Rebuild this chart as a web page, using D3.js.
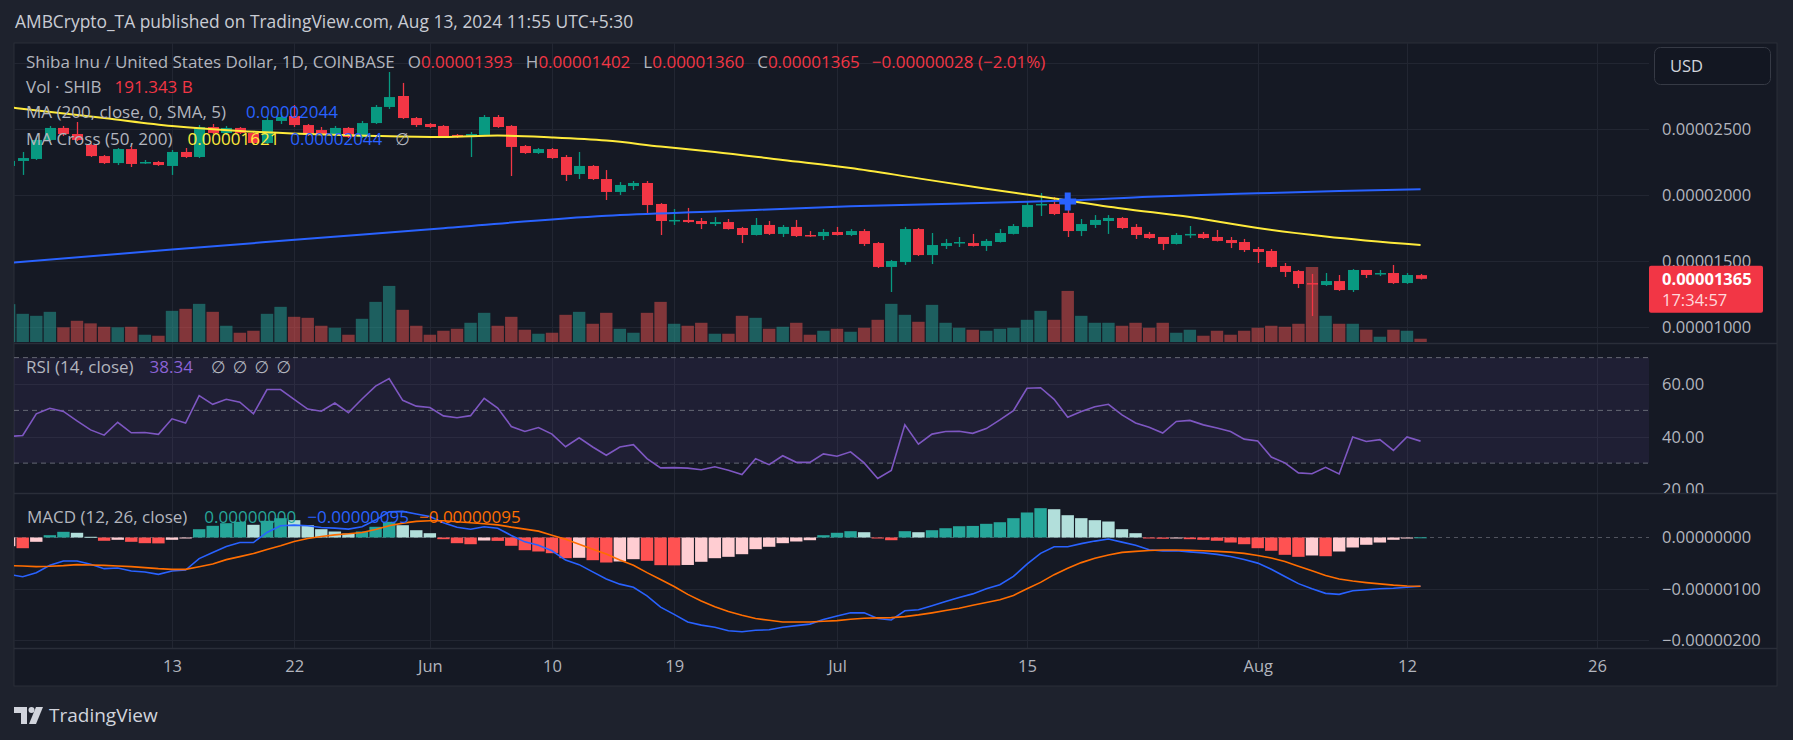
<!DOCTYPE html>
<html>
<head>
<meta charset="utf-8">
<script src="https://cdn.jsdelivr.net/npm/d3@7"></script>
<style>
  body { margin: 0; background: #1e222d; }
  svg text { font-family: "Open Sans", Roboto, "DejaVu Sans", sans-serif; }
</style>
</head>
<body>
<svg id="chart" width="1793" height="740"></svg>
<script>
// daily candles, first one is 2024-05-01; prices in units of 1e-8 USD
const startDate = Date.UTC(2024, 4, 1);
const opens = [2220,2258,2273,2417,2508,2462,2379,2295,2242,2348,2242,2250,2220,2326,2288,2515,2470,2508,2470,2394,2561,2598,2530,2492,2455,2508,2439,2545,2667,2750,2583,2538,2523,2455,2439,2455,2591,2523,2371,2318,2348,2288,2159,2220,2121,2023,2068,2091,1932,1803,1811,1803,1780,1795,1750,1697,1773,1705,1758,1697,1689,1720,1697,1727,1636,1455,1492,1742,1545,1614,1636,1636,1614,1644,1705,1758,1924,1932,1864,1727,1773,1803,1826,1758,1705,1682,1629,1697,1705,1682,1659,1644,1591,1576,1462,1424,1333,1318,1348,1280,1432,1402,1409,1333,1393];
const highs = [2270,2326,2432,2523,2523,2553,2386,2303,2356,2371,2265,2258,2341,2356,2530,2538,2523,2515,2485,2591,2629,2682,2538,2515,2523,2515,2561,2682,2932,2849,2591,2545,2530,2462,2477,2606,2606,2530,2379,2356,2356,2303,2326,2227,2189,2098,2106,2106,1939,1894,1902,1826,1833,1818,1758,1826,1803,1773,1811,1727,1742,1758,1742,1742,1644,1508,1758,1750,1712,1667,1682,1705,1667,1742,1780,1947,2015,1985,1902,1818,1848,1848,1833,1780,1720,1682,1712,1765,1720,1735,1682,1667,1606,1591,1485,1432,1402,1409,1394,1439,1432,1432,1470,1409,1402];
const lows = [2140,2152,2265,2409,2447,2409,2288,2235,2227,2212,2235,2220,2152,2280,2280,2462,2455,2462,2379,2386,2538,2515,2447,2455,2447,2432,2432,2538,2652,2576,2515,2508,2432,2432,2288,2447,2508,2144,2311,2311,2273,2106,2121,2114,1962,2000,2038,1864,1697,1773,1788,1742,1765,1738,1636,1693,1697,1682,1682,1682,1659,1693,1689,1614,1447,1265,1470,1538,1477,1591,1606,1610,1576,1640,1701,1754,1841,1848,1682,1689,1750,1705,1742,1667,1667,1583,1625,1674,1667,1648,1598,1568,1485,1451,1379,1295,1083,1311,1273,1265,1371,1386,1326,1326,1360];
const closes = [2258,2280,2417,2508,2462,2417,2295,2242,2348,2235,2250,2227,2326,2288,2515,2470,2508,2470,2394,2568,2591,2530,2455,2462,2508,2439,2545,2667,2742,2583,2530,2515,2439,2439,2462,2591,2515,2364,2318,2348,2280,2152,2220,2121,2023,2076,2091,1924,1803,1811,1795,1780,1795,1742,1697,1773,1705,1758,1689,1693,1720,1697,1727,1629,1455,1500,1742,1545,1621,1636,1644,1614,1652,1712,1765,1924,1932,1856,1727,1780,1811,1826,1750,1697,1674,1629,1697,1705,1674,1652,1636,1583,1568,1455,1417,1326,1326,1348,1280,1432,1394,1409,1333,1394,1365];
// volume in billions of SHIB
const volumes = [2204,1641,1525,1757,853,1235,1085,887,853,887,423,365,1815,1931,2221,1757,945,539,655,1641,2047,1467,1409,945,829,423,1351,2337,3265,1873,945,423,655,771,1119,1699,945,1467,713,481,539,1583,1757,1061,1699,771,539,1699,2337,1061,945,1119,481,481,1525,1409,771,887,1119,423,655,771,597,829,1293,2221,1583,1177,2163,1119,829,713,655,771,829,1293,1815,1293,2975,1525,1119,1119,945,1119,829,1119,539,713,365,655,423,655,829,945,887,1061,4367,1525,1061,1061,713,307,713,655,191.343];

// moving averages, read at sample candles (index into the candle list)
const ma50Idx = [0,7,12,17,22,27,32,36,40,44,48,52,57,62,67,72,77,82,87,92,97,104];
const ma50Values = [2665,2583,2523,2485,2462,2447,2439,2450,2436,2412,2367,2326,2265,2205,2126,2048,1973,1898,1833,1750,1686,1621];
const ma200Idx = [0,12,22,32,44,52,62,75,78,84,92,98,104];
const ma200Values = [1485,1587,1668,1749,1843,1875,1914,1949,1958,1987,2013,2030,2044];
const crossIdx = 78, crossPrice = 1950;

const rsiValues = [40.1,40.5,48.7,50.8,49.6,46.0,42.6,40.6,45.5,41.5,41.6,40.9,46.8,45.2,55.6,52.3,54.2,53.1,48.7,57.9,57.9,54.2,50.5,49.7,52.8,49.1,54.3,59.2,62.1,53.8,51.6,51.1,47.9,47.2,48.0,54.6,50.9,43.9,42.0,43.5,41.0,36.2,39.6,36.1,33.0,36.1,37.0,31.7,28.2,28.3,28.1,27.5,28.6,27.3,25.7,31.7,29.4,32.8,30.3,30.3,33.5,32.6,34.3,30.1,24.2,27.2,44.5,37.2,41.0,42.0,42.1,41.3,43.1,46.4,49.9,58.4,58.6,54.2,47.4,49.6,51.4,52.3,48.3,45.2,43.6,41.4,45.8,46.2,44.5,43.3,42.0,39.1,38.4,32.3,30.1,26.3,26.0,28.4,25.9,39.9,38.2,38.9,34.8,39.9,38.34];

// MACD, units of 1e-8
const macdLine = [-72,-76.5,-68.6,-54.3,-45.8,-45.8,-52.3,-60.8,-59.5,-65.4,-67.3,-71.9,-65.4,-63.4,-41.2,-29.4,-17.6,-9.8,-9.8,9.8,22.8,24.1,22.8,19.6,18.3,16.3,20.8,34,50,51,46,41,29,20,16,21,18,4,-8.5,-15,-26,-44,-53,-67,-81,-91,-97,-114,-136,-150,-165,-171,-175,-182,-184,-181,-180,-175,-172,-169,-160,-153,-147,-147,-158,-161,-143,-141,-133,-125,-117,-110,-100,-92,-76,-52,-31,-18,-18,-12,-7,-3,-9,-15,-24,-26,-26,-28,-30,-33,-37,-43,-50,-62,-76,-90,-100,-109,-111,-104,-102,-100,-99,-97,-95];
const signalLine = [-55,-55.6,-56.9,-56.2,-54.9,-52.9,-53.6,-54.3,-55.6,-56.9,-58.8,-60.8,-62.2,-62.2,-56.9,-51.7,-43.2,-37.3,-31.4,-23.5,-16.3,-7.8,-2,2,5.2,7.2,9.8,15.7,22.8,28,31.4,32.6,32.6,30.7,28.7,26.7,24.7,20.2,16.3,12.4,4.5,-3.3,-13.1,-22.9,-32.1,-43.9,-54.3,-68.6,-81.8,-95.5,-111,-124,-135,-144.5,-151.7,-158.2,-161.5,-164.8,-164.8,-164.8,-163.5,-162.2,-159.6,-157.6,-156.9,-156.3,-154.3,-151,-147,-142.5,-138,-132.2,-126.9,-121.6,-113.1,-100,-87.6,-72.5,-60.2,-49,-40.6,-34.1,-29,-27,-25.5,-24.5,-24.5,-25,-26,-27,-28.5,-31,-35,-40,-47,-56,-65,-74,-81,-85,-88,-90.5,-93,-94.5,-95];
const macdHist = [-17,-20.9,-8.4,4.5,11.1,9.2,1.4,-6.4,-4.5,-8.4,-11.1,-11.5,-4.5,-1.4,16.2,22.8,27.9,30.6,24.8,32.6,37.7,33.8,24.0,16.2,11.7,7.8,11.7,20.9,30.6,24.0,14.2,8.4,-3.3,-11.1,-13.1,-5.9,-6.6,-16.2,-24.8,-27.3,-30.6,-40.4,-39.6,-44.3,-48.8,-46.8,-42.3,-45.5,-54.0,-54.4,-53.6,-47.4,-40.4,-37.7,-32.6,-22.8,-18.1,-11.1,-7.8,-5.3,4.5,9.2,12.3,10.3,-1.4,-5.3,12.3,10.3,14.2,18.1,22.0,22.6,26.7,29.8,37.7,48.8,57.2,55.2,43.5,37.7,33.8,31.2,16.2,8.4,-1.4,-2.5,-1.4,-3.3,-4.5,-6.4,-9.8,-13.1,-20.9,-25.9,-33.8,-37.7,-35.1,-36.5,-27.3,-19.5,-14.2,-9.8,-4.5,-2.0,0.4];

const timeTicks = ["2024-05-13","2024-05-22","2024-06-01","2024-06-10","2024-06-19","2024-07-01","2024-07-15","2024-08-01","2024-08-12","2024-08-26"];
const timeLabels = ["13","22","Jun","10","19","Jul","15","Aug","12","26"];
const priceTicks = [1000, 1500, 2000, 2500];
const rsiTicks = [20, 40, 60];
const macdTicks = [-200, -100, 0];

const UNIT = 1e-8;
const fmt8 = v => (v < 0 ? "\u2212" : "") + Math.abs(v * UNIT).toFixed(8);

const C = {
  bg: "#1e222d", pane: "#151924", border: "#2a2e39", grid: "#222632",
  text: "#b2b5be", up: "#089981", down: "#f23645",
  volUp: "rgba(38,166,154,0.5)", volDown: "rgba(239,83,80,0.5)",
  blue: "#2962ff", yellow: "#ffeb3b", purple: "#7e57c2", orange: "#ff6d00"
};

const L = 14, R = 1649, FR = 1777;
const priceTop = 43, priceBottom = 343, rsiBottom = 493, macdBottom = 648, axisBottom = 686;
const FS = 16.5;

const svg = d3.select("#chart");
svg.append("rect").attr("width", 1793).attr("height", 740).attr("fill", C.bg);
svg.append("rect").attr("x", L).attr("y", priceTop).attr("width", FR - L).attr("height", axisBottom - priceTop)
  .attr("fill", C.pane).attr("stroke", C.border);

const dates = closes.map((_, i) => new Date(startDate + i * 864e5));
const x = d3.scaleUtc()
  .domain([new Date(Date.UTC(2024, 4, 13)), new Date(Date.UTC(2024, 7, 26))])
  .range([172, 1597]);

const yPrice = d3.scaleLinear().domain([1000, 2500]).range([327, 129]);
const yVol = d3.scaleLinear().domain([0, d3.max(volumes)]).range([342, 267]);
const yRsi = d3.scaleLinear().domain([20, 60]).range([489.5, 384]);
const yMacd = d3.scaleLinear().domain([-200, 0]).range([640, 537.5]);

// clip paths
const defs = svg.append("defs");
[["clip-price", L, R, priceTop, priceBottom], ["clip-rsi", L, R, priceBottom, rsiBottom],
 ["clip-macd", L, R, rsiBottom, macdBottom], ["clip-rsi-axis", R, FR, priceBottom + 1, rsiBottom]]
  .forEach(([id, l, r, t, b]) => defs.append("clipPath").attr("id", id)
    .append("rect").attr("x", l).attr("y", t).attr("width", r - l).attr("height", b - t));

// vertical grid
const grid = svg.append("g").attr("stroke", C.grid).attr("stroke-width", 1);
timeTicks.forEach(t => {
  const xx = Math.round(x(new Date(t + "T00:00:00Z"))) + 0.5;
  grid.append("line").attr("x1", xx).attr("x2", xx).attr("y1", priceTop).attr("y2", macdBottom);
});
// horizontal grid
[3000, ...priceTicks].forEach(v => {
  const yy = Math.round(yPrice(v)) + 0.5;
  grid.append("line").attr("x1", L).attr("x2", R).attr("y1", yy).attr("y2", yy);
});
[40, 60].forEach(v => {
  const yy = Math.round(yRsi(v)) + 0.5;
  grid.append("line").attr("x1", L).attr("x2", R).attr("y1", yy).attr("y2", yy);
});
[-100, -200].forEach(v => {
  const yy = Math.round(yMacd(v)) + 0.5;
  grid.append("line").attr("x1", L).attr("x2", R).attr("y1", yy).attr("y2", yy);
});

// ---- price pane ----
const pp = svg.append("g").attr("clip-path", "url(#clip-price)");

pp.append("g").selectAll("rect").data(volumes).join("rect")
  .attr("x", (d, i) => x(dates[i]) - 6.2)
  .attr("width", 12.4)
  .attr("y", d => yVol(d))
  .attr("height", d => 342 - yVol(d))
  .attr("fill", (d, i) => closes[i] >= opens[i] ? C.volUp : C.volDown);

const candles = pp.append("g").selectAll("g").data(closes).join("g");
candles.append("line")
  .attr("x1", (d, i) => Math.round(x(dates[i])) + 0.5)
  .attr("x2", (d, i) => Math.round(x(dates[i])) + 0.5)
  .attr("y1", (d, i) => yPrice(highs[i]))
  .attr("y2", (d, i) => yPrice(lows[i]))
  .attr("stroke", (d, i) => closes[i] >= opens[i] ? C.up : C.down)
  .attr("stroke-width", 1.3);
candles.append("rect")
  .attr("x", (d, i) => Math.round(x(dates[i])) - 5)
  .attr("width", 11)
  .attr("y", (d, i) => yPrice(Math.max(opens[i], closes[i])))
  .attr("height", (d, i) => Math.max(1.5, Math.abs(yPrice(opens[i]) - yPrice(closes[i]))))
  .attr("fill", (d, i) => closes[i] >= opens[i] ? C.up : C.down);

const maLine = d3.line().curve(d3.curveMonotoneX);
pp.append("path")
  .attr("d", maLine(ma200Idx.map((k, j) => [x(dates[k]), yPrice(ma200Values[j])])))
  .attr("fill", "none").attr("stroke", C.blue).attr("stroke-width", 2);
pp.append("path")
  .attr("d", maLine(ma50Idx.map((k, j) => [x(dates[k]), yPrice(ma50Values[j])])))
  .attr("fill", "none").attr("stroke", C.yellow).attr("stroke-width", 2);

// MA cross marker
const cx = x(dates[crossIdx]), cy = yPrice(crossPrice);
pp.append("path")
  .attr("d", `M${cx - 3},${cy - 9}h6v6h5.5v6h-5.5v6h-6v-6h-5.5v-6h5.5z`)
  .attr("fill", C.blue);

// ---- RSI pane ----
const rp = svg.append("g").attr("clip-path", "url(#clip-rsi)");
rp.append("rect").attr("x", L).attr("width", R - L)
  .attr("y", yRsi(70)).attr("height", yRsi(30) - yRsi(70))
  .attr("fill", "rgba(126,87,194,0.1)");
[70, 50, 30].forEach(v => {
  rp.append("line").attr("x1", L).attr("x2", R).attr("y1", yRsi(v)).attr("y2", yRsi(v))
    .attr("stroke", "#787b86").attr("stroke-dasharray", "5,4").attr("opacity", 0.8);
});
rp.append("path")
  .attr("d", d3.line()(rsiValues.map((v, i) => [x(dates[i]), yRsi(v)])))
  .attr("fill", "none").attr("stroke", C.purple).attr("stroke-width", 1.6);

// ---- MACD pane ----
const mp = svg.append("g").attr("clip-path", "url(#clip-macd)");
mp.append("line").attr("x1", L).attr("x2", R).attr("y1", yMacd(0)).attr("y2", yMacd(0))
  .attr("stroke", "#787b86").attr("stroke-dasharray", "4,4").attr("opacity", 0.6);
const histColor = (v, i) => {
  const prev = i > 0 ? macdHist[i - 1] : v;
  if (v >= 0) return v >= prev ? "#26a69a" : "#b2dfdb";
  return v < prev ? "#ff5252" : "#ffcdd2";
};
mp.append("g").selectAll("rect").data(macdHist).join("rect")
  .attr("x", (d, i) => x(dates[i]) - 6.2)
  .attr("width", 12.4)
  .attr("y", d => Math.min(yMacd(d), yMacd(0)))
  .attr("height", d => Math.max(1, Math.abs(yMacd(d) - yMacd(0))))
  .attr("fill", (d, i) => histColor(d, i));
mp.append("path")
  .attr("d", d3.line()(macdLine.map((v, i) => [x(dates[i]), yMacd(v)])))
  .attr("fill", "none").attr("stroke", C.blue).attr("stroke-width", 1.6);
mp.append("path")
  .attr("d", d3.line()(signalLine.map((v, i) => [x(dates[i]), yMacd(v)])))
  .attr("fill", "none").attr("stroke", C.orange).attr("stroke-width", 1.6);

// pane separators
[priceBottom, rsiBottom, macdBottom].forEach(yy => {
  svg.append("line").attr("x1", L).attr("x2", FR).attr("y1", yy + 0.5).attr("y2", yy + 0.5)
    .attr("stroke", C.border).attr("stroke-width", 1.5);
});

// ---- axes ----
function styleAxis(g) {
  g.select(".domain").remove();
  g.selectAll(".tick line").remove();
  g.attr("font-size", FS).attr("font-family", null);
  g.selectAll("text").attr("fill", C.text);
}
svg.append("g").attr("transform", `translate(${R},0)`)
  .call(d3.axisRight(yPrice).tickValues(priceTicks).tickFormat(fmt8).tickSize(0).tickPadding(13))
  .call(styleAxis);
svg.append("g").attr("clip-path", "url(#clip-rsi-axis)")
  .append("g").attr("transform", `translate(${R},0)`)
  .call(d3.axisRight(yRsi).tickValues(rsiTicks).tickFormat(d3.format(".2f")).tickSize(0).tickPadding(13))
  .call(styleAxis);
svg.append("g").attr("transform", `translate(${R},0)`)
  .call(d3.axisRight(yMacd).tickValues(macdTicks).tickFormat(fmt8).tickSize(0).tickPadding(13))
  .call(styleAxis);
svg.append("g").attr("transform", `translate(0,${macdBottom})`)
  .call(d3.axisBottom(x).tickValues(timeTicks.map(t => new Date(t + "T00:00:00Z")))
    .tickFormat((d, i) => timeLabels[i]).tickSize(0).tickPadding(12))
  .call(styleAxis);

// USD button
svg.append("rect").attr("x", 1654.5).attr("y", 47.5).attr("width", 116).attr("height", 37).attr("rx", 6)
  .attr("fill", "#131722").attr("stroke", "#363a45");
svg.append("text").attr("x", 1670).attr("y", 66).attr("dy", "0.35em")
  .attr("fill", "#d1d4dc").attr("font-size", FS).text("USD");

// last price label (covers the lower half of the 0.00001500 tick, as on the original)
const lastY = yPrice(closes[closes.length - 1]);
svg.append("rect").attr("x", R).attr("y", lastY - 13).attr("width", 114).attr("height", 47).attr("rx", 2)
  .attr("fill", C.down);
svg.append("text").attr("x", R + 13).attr("y", lastY).attr("dy", "0.35em")
  .attr("fill", "#fff").attr("font-size", FS).attr("font-weight", "bold")
  .text(fmt8(closes[closes.length - 1]));
svg.append("text").attr("x", R + 13).attr("y", lastY + 21).attr("dy", "0.35em")
  .attr("fill", "#ffd9dc").attr("font-size", FS).text("17:34:57");

// ---- legends ----
function legend(yy, parts, x0 = 26) {
  const t = svg.append("text").attr("x", x0).attr("y", yy).attr("dy", "0.35em").attr("font-size", 17);
  parts.forEach(([s, color, dx]) => t.append("tspan").attr("dx", dx || 0).attr("fill", color).text(s));
}
const red = C.down;
legend(62, [["Shiba Inu / United States Dollar, 1D, COINBASE", C.text],
  ["O", C.text, 13], [fmt8(opens[opens.length - 1]), red],
  ["H", C.text, 13], [fmt8(highs[highs.length - 1]), red],
  ["L", C.text, 13], [fmt8(lows[lows.length - 1]), red],
  ["C", C.text, 13], [fmt8(closes[closes.length - 1]), red],
  ["\u22120.00000028 (\u22122.01%)", red, 12]]);
legend(87, [["Vol \u00b7 SHIB", C.text], ["191.343 B", red, 13]]);
legend(112, [["MA (200, close, 0, SMA, 5)", C.text], [fmt8(ma200Values[ma200Values.length - 1]), C.blue, 20]]);
legend(139, [["MA Cross (50, 200)", C.text], [fmt8(ma50Values[ma50Values.length - 1]), C.yellow, 15],
  [fmt8(ma200Values[ma200Values.length - 1]), C.blue, 11], ["\u2205", C.text, 13]]);
legend(367, [["RSI (14, close)", C.text], [rsiValues[rsiValues.length - 1].toFixed(2), "#8b63d6", 16],
  ["\u2205", C.text, 18], ["\u2205", C.text, 7], ["\u2205", C.text, 7], ["\u2205", C.text, 7]]);
legend(517, [["MACD (12, 26, close)", C.text], ["0.00000000", "#26a69a", 17],
  [fmt8(macdLine[macdLine.length - 1]), C.blue, 11], [fmt8(signalLine[signalLine.length - 1]), C.orange, 10]], 27);

// header and footer
svg.append("text").attr("x", 15).attr("y", 22).attr("dy", "0.35em").attr("font-size", 17.4)
  .attr("fill", "#c9ccd4").text("AMBCrypto_TA published on TradingView.com, Aug 13, 2024 11:55 UTC+5:30");
const logo = svg.append("g").attr("fill", "#d1d4dc");
logo.append("path").attr("d", "M14,707h13v17h-6v-11h-7z");
logo.append("circle").attr("cx", 31.5).attr("cy", 710).attr("r", 3);
logo.append("path").attr("d", "M36,707h7l-7,17h-7z");
svg.append("text").attr("x", 49).attr("y", 715).attr("dy", "0.35em").attr("font-size", 19)
  .attr("font-weight", 500).attr("fill", "#d1d4dc").text("TradingView");
</script>
</body>
</html>
